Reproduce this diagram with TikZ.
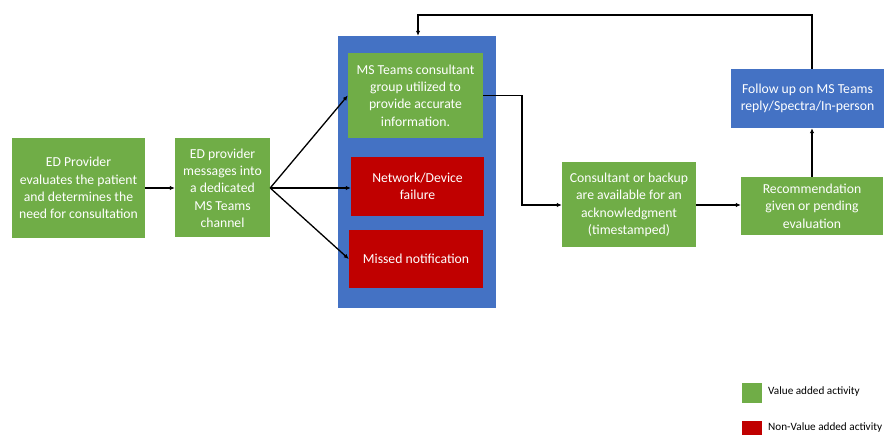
\documentclass[tikz,border=0pt]{standalone}
\usepackage{fontspec}
\setmainfont{Carlito}
\usetikzlibrary{calc,backgrounds,arrows.meta}
\definecolor{vert}{RGB}{112,173,71}
\definecolor{rouge}{RGB}{192,0,0}
\definecolor{bleu}{RGB}{68,114,196}

\begin{document}
\begin{tikzpicture}[%
    x=1pt,y=-1pt,%
    boite/.style={draw=none,text=white,align=center,inner sep=0pt,%
        font=\fontsize{13.7}{17.3}\selectfont},%
    vabox/.style={boite,fill=vert},%
    nvabox/.style={boite,fill=rouge},%
    fleche/.style={draw=black,line width=1.3pt,-{Latex[length=5pt,width=4.5pt]}},%
    legende/.style={font=\fontsize{11.2}{13}\selectfont,anchor=west,inner sep=0pt}%
    ]
    \useasboundingbox (0,0) rectangle (884,435);

    %
    % Définitions
    %
    \pgfmathsetmacro{\ymid}{188};%
    \pgfmathsetmacro{\ycons}{205};%
    \pgfmathsetmacro{\xret}{522};%
    \pgfmathsetmacro{\ytop}{15};%

    % Conteneur MS Teams
    \node[fill=bleu,minimum width=158,minimum height=272,inner sep=0pt] (cadre) at (417,172) {};

    % Etapes
    \node[vabox,minimum width=133,minimum height=100] (eval) at (78.5,\ymid)
        {ED Provider\\evaluates the patient\\and determines the\\need for consultation};
    \node[vabox,minimum width=95,minimum height=99] (msg) at (222.5,\ymid)
        {ED provider\\messages into\\a dedicated\\MS Teams\\channel};
    \node[vabox,minimum width=135,minimum height=85] (groupe) at (415.5,95.5)
        {MS Teams consultant\\group utilized to\\provide accurate\\information.};
    \node[nvabox,minimum width=133,minimum height=59] (reseau) at (417.5,186.5)
        {Network/Device\\failure};
    \node[nvabox,minimum width=134,minimum height=58] (manque) at (416,259)
        {Missed notification};
    \node[vabox,minimum width=134,minimum height=85] (dispo) at (629,\ycons)
        {Consultant or backup\\are available for an\\acknowledgment\\(timestamped)};
    \node[vabox,minimum width=142,minimum height=58] (reco) at (812,206)
        {Recommendation\\given or pending\\evaluation};
    \node[boite,fill=bleu,minimum width=153,minimum height=59] (suivi) at (807.5,98.5)
        {Follow up on MS Teams\\reply/Spectra/In-person};

    % Flèches
    \draw[fleche] (eval) -- (msg);
    \draw[fleche] (msg.east) -- (groupe.west);
    \draw[fleche] (msg.east) -- (reseau.west |- msg.east);
    \draw[fleche] (msg.east) -- (manque.west);
    \draw[fleche] (groupe.east) -- (\xret,95.5) |- (dispo.west);
    \draw[fleche] (dispo) -- (reco.west |- dispo.east);
    \draw[fleche] (reco.north -| 812,0) -- (suivi.south -| 812,0);
    \draw[fleche] (suivi.north -| 812,0) |- (418,\ytop) -- (cadre.north -| 418,0);

    % Légende
    \node[fill=vert,minimum size=20,inner sep=0pt] (cleva) at (752,393) {};
    \node[fill=rouge,minimum size=20,inner sep=0pt] (clenva) at (752,431) {};
    \node[legende] (txtva) at (768,392) {Value added activity};
    \node[legende] (txtnva) at (768,428) {Non-Value added activity};

\end{tikzpicture}
\end{document}
